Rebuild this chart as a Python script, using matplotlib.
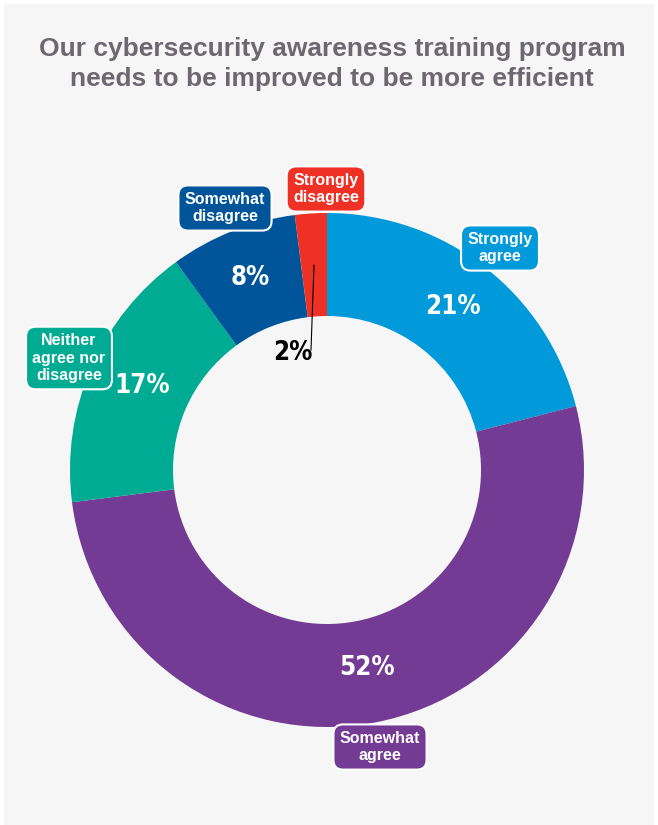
import matplotlib.pyplot as plt
from matplotlib.patches import Rectangle

# Survey answers, clockwise from 12 o'clock
labels = ['Strongly\nagree', 'Somewhat\nagree', 'Neither\nagree nor\ndisagree',
          'Somewhat\ndisagree', 'Strongly\ndisagree']
shares = [21, 52, 17, 8, 2]
colors = ['#0099DA', '#743B94', '#00AB94', '#005499', '#EE3124']
title = 'Our cybersecurity awareness training program\nneeds to be improved to be more efficient'

W, H = 658, 825
BG = '#F6F6F6'

fig = plt.figure(figsize=(W / 100, H / 100), dpi=100)
fig.patch.set_facecolor('white')
ax = fig.add_axes([0, 0, 1, 1])

# pixel-like coordinates, y measured upward
cx, cy = 327, H - 470
r_out, ring = 257, 103

ax.add_patch(Rectangle((4, 0), W - 8, H - 4, facecolor=BG, edgecolor='none', zorder=0))

wedges, _ = ax.pie(shares, colors=colors, startangle=90, counterclock=False,
                   radius=r_out, center=(cx, cy),
                   wedgeprops=dict(width=ring, linewidth=0))
for w in wedges:
    w.set_zorder(1)

ax.set_xlim(0, W)
ax.set_ylim(0, H)
ax.set_aspect('equal')
ax.axis('off')

ax.text(332, H - 64, title, ha='center', va='center', fontsize=19,
        fontweight='bold', color='#6D6870', family='Liberation Sans',
        linespacing=1.32)

# category tags
tag_pos = [(500, 248), (380, 747), (69, 358), (225, 208), (326, 189)]
for lab, col, (x, y) in zip(labels, colors, tag_pos):
    ax.text(x, H - y, lab, ha='center', va='center', fontsize=11.5,
            fontweight='bold', color='white', family='Liberation Sans',
            linespacing=1.2, zorder=3,
            bbox=dict(boxstyle='round,pad=0.4,rounding_size=0.6',
                      facecolor=col, edgecolor='white', linewidth=1.5))

# percentages
pct_pos = [(453, 307), (367, 668), (142, 386), (250, 278), (293, 353)]
pct_col = ['white', 'white', 'white', 'white', 'black']
for v, c, (x, y) in zip(shares, pct_col, pct_pos):
    ax.text(x, H - y, f'{v}%', ha='center', va='center', fontsize=18.5,
            fontweight='bold', fontstretch='condensed', color=c,
            family='DejaVu Sans', zorder=3)

# leader for the small slice
ax.plot([314, 311], [H - 265, H - 350], color='black', lw=0.8, zorder=2)

fig.savefig('out.png', dpi=100, facecolor=fig.get_facecolor())
